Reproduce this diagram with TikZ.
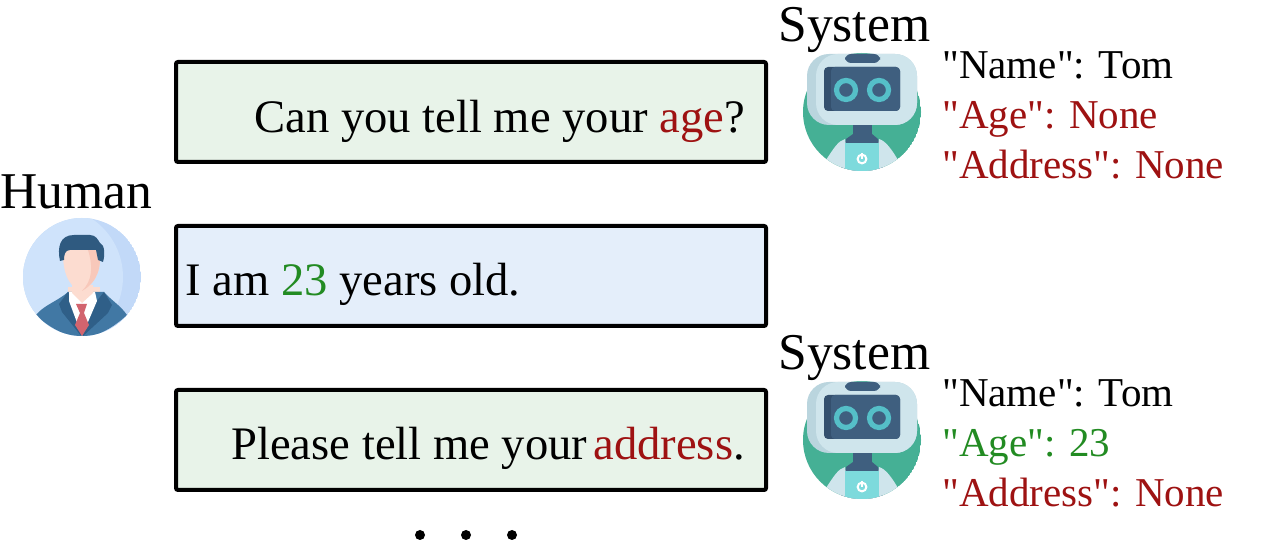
\documentclass[tikz,border=0pt]{standalone}
\usepackage{fontspec}
\setmainfont{Liberation Serif}[Ligatures=TeXOff]
\definecolor{boxgreen}{HTML}{E8F3E9}
\definecolor{boxblue}{HTML}{E4EEFA}
\definecolor{wred}{HTML}{9E1212}
\definecolor{wgreen}{HTML}{228B22}
\definecolor{rgreen}{HTML}{45B095}
\definecolor{rhead}{HTML}{CFE5EC}
\definecolor{rheadd}{HTML}{BAD5DE}
\definecolor{rdark}{HTML}{3F5F7F}
\definecolor{rdarkd}{HTML}{34506E}
\definecolor{rteal}{HTML}{55BFC8}
\definecolor{rpanel}{HTML}{7DDADC}
\definecolor{hbg}{HTML}{CFE3FB}
\definecolor{hbgd}{HTML}{C2D9F8}
\definecolor{hhair}{HTML}{2F5A80}
\definecolor{hface}{HTML}{FCDCD0}
\definecolor{hfaced}{HTML}{F8C8BA}
\definecolor{hsuit}{HTML}{4178A4}
\definecolor{hsuitd}{HTML}{2F5F88}
\definecolor{htie}{HTML}{D2646E}
\tikzset{
  x=0.5pt,y=-0.5pt,
  msgbox/.style={draw=black,line width=2pt,rounded corners=1pt},
  label/.style={anchor=base west,inner sep=0pt,font=\fontsize{25.8}{30}\selectfont},
  msg/.style={anchor=base west,inner sep=0pt,font=\fontsize{23.3}{28}\selectfont},
  slot/.style={anchor=base west,inner sep=0pt,font=\fontsize{20.5}{24}\selectfont},
  pics/robot/.style={code={
    \begin{scope}
      \clip (0,0) circle (59);
      \fill[rgreen] (0,0) circle (59);
      \fill[rdark] (-22,40) -- (-16,28) -- (16,28) -- (22,40) -- (22,60) -- (-22,60) -- cycle;
      \fill[rhead] (-36,48) .. controls (-28,36) and (-24,29) .. (-17,27) -- (-16,34) -- (16,34) -- (17,27) .. controls (24,29) and (30,38) .. (36,48) -- (36,60) -- (-36,60) -- cycle;
      \fill[rpanel] (-17,31) -- (17,31) -- (17,60) -- (-17,60) -- cycle;
    \end{scope}
    \fill[rdark] (-9,10) rectangle (10,30);
    \fill[rdark] (-16,27) -- (-9,22) -- (10,22) -- (16,27) -- (16,31) -- (-16,31) -- cycle;
    \fill[rheadd,rounded corners=11pt] (-55,-58) rectangle (55,13);
    \fill[rhead,rounded corners=11pt] (-46,-58) rectangle (55,13);
    \fill[rdark,rounded corners=3pt] (-17,-58) rectangle (18,-49);
    \fill[rdarkd,rounded corners=2pt] (-38,-45) rectangle (38,-1);
    \fill[rdark,rounded corners=2pt] (-31,-45) rectangle (38,-1);
    \draw[rteal,line width=2.6pt] (-16,-22) circle (9.5);
    \draw[rteal,line width=2.6pt] (17,-22) circle (9.5);
    \draw[white,line width=1pt] (0,47) circle (4.4);
    \draw[white,line width=1pt] (0,41) -- (0,47);
  }},
  pics/human/.style={code={
    \begin{scope}
      \clip (0,0) circle (59);
      \fill[hbgd] (0,0) circle (59);
      \fill[hbg] (-29,0) circle (70);
      \fill[hface] (-14,10) -- (18,10) -- (18,32) -- (-14,32) -- cycle;
      \fill[hsuit] (-46,38) .. controls (-38,28) and (-24,24) .. (-14,15) -- (22,15) .. controls (30,24) and (38,28) .. (45,38) .. controls (32,50) and (16,60) .. (0,60) .. controls (-16,60) and (-34,50) .. (-46,38) -- cycle;
      \fill[hsuitd] (-14,15) -- (-23,27) -- (-20,35) -- (0,60) -- (-6,30) -- cycle;
      \fill[hsuitd] (22,15) -- (30,28) -- (26,36) -- (0,60) -- (10,30) -- cycle;
      \fill[white] (-13,15) -- (13,15) -- (15,24) -- (0,59) -- (-13,24) -- cycle;
      \fill[htie] (-6,27) -- (5,27) -- (2,36) -- (7,48) -- (0,59) -- (-7,48) -- (-2,36) -- cycle;
    \end{scope}
    \fill[hface] (-10,8) -- (11,8) -- (11,16) -- (0,26) -- (-10,16) -- cycle;
    \fill[hface] (-19,-30) -- (18,-30) .. controls (19,-10) and (17,4) .. (0,14) .. controls (-15,10) and (-20,-8) .. (-19,-30) -- cycle;
    \fill[hfaced] (5,-30) -- (18,-30) .. controls (19,-10) and (17,4) .. (0,14) .. controls (10,4) and (12,-10) .. (5,-30) -- cycle;
    \fill[hhair] (-22,-16) .. controls (-25,-30) and (-22,-42) .. (-8,-42) -- (8,-42) .. controls (14,-42) and (16,-37) .. (18,-34) .. controls (23,-32) and (23,-22) .. (21,-15) -- (16,-17) -- (14,-27) -- (-12,-27) .. controls (-17,-27) and (-18,-22) .. (-18,-17) -- cycle;
  }}
}
\begin{document}
\begin{tikzpicture}
\useasboundingbox (0,0) rectangle (1280,544);
\fill[white] (0,0) rectangle (1280,544);
\draw[msgbox,fill=boxgreen] (176,62) rectangle (766,162);
\draw[msgbox,fill=boxblue] (176,226) rectangle (766,326);
\draw[msgbox,fill=boxgreen] (176,390) rectangle (766,490);
\node[msg] (q1) at (254,133) {Can you tell me your \textcolor{wred}{age}?};
\node[msg] (a1) at (185,296) {I am \textcolor{wgreen}{23} years old.};
\node[msg] (q2a) at (231,460) {Please tell me your};
\node[msg,text=wred] (q2b) at (593,460) {address};
\node[msg] (q2c) at (733,460) {.};
\node[label] (human) at (0,209) {Human};
\node[label] (sys1) at (778,42) {System};
\node[label] (sys2) at (778,370) {System};
\pic at (82,277) {human};
\pic at (862,112) {robot};
\pic at (862,440) {robot};
\node[slot] (s1n) at (942,79) {"Name": Tom};
\node[slot,text=wred] (s1a) at (942,129) {"Age": None};
\node[slot,text=wred] (s1b) at (942,179) {"Address": None};
\node[slot] (s2n) at (942,407) {"Name": Tom};
\node[slot,text=wgreen] (s2a) at (942,457) {"Age": 23};
\node[slot,text=wred] (s2b) at (942,507) {"Address": None};
\fill (420,535) circle (5) (466,535) circle (5) (512,535) circle (5);
\end{tikzpicture}
\end{document}
